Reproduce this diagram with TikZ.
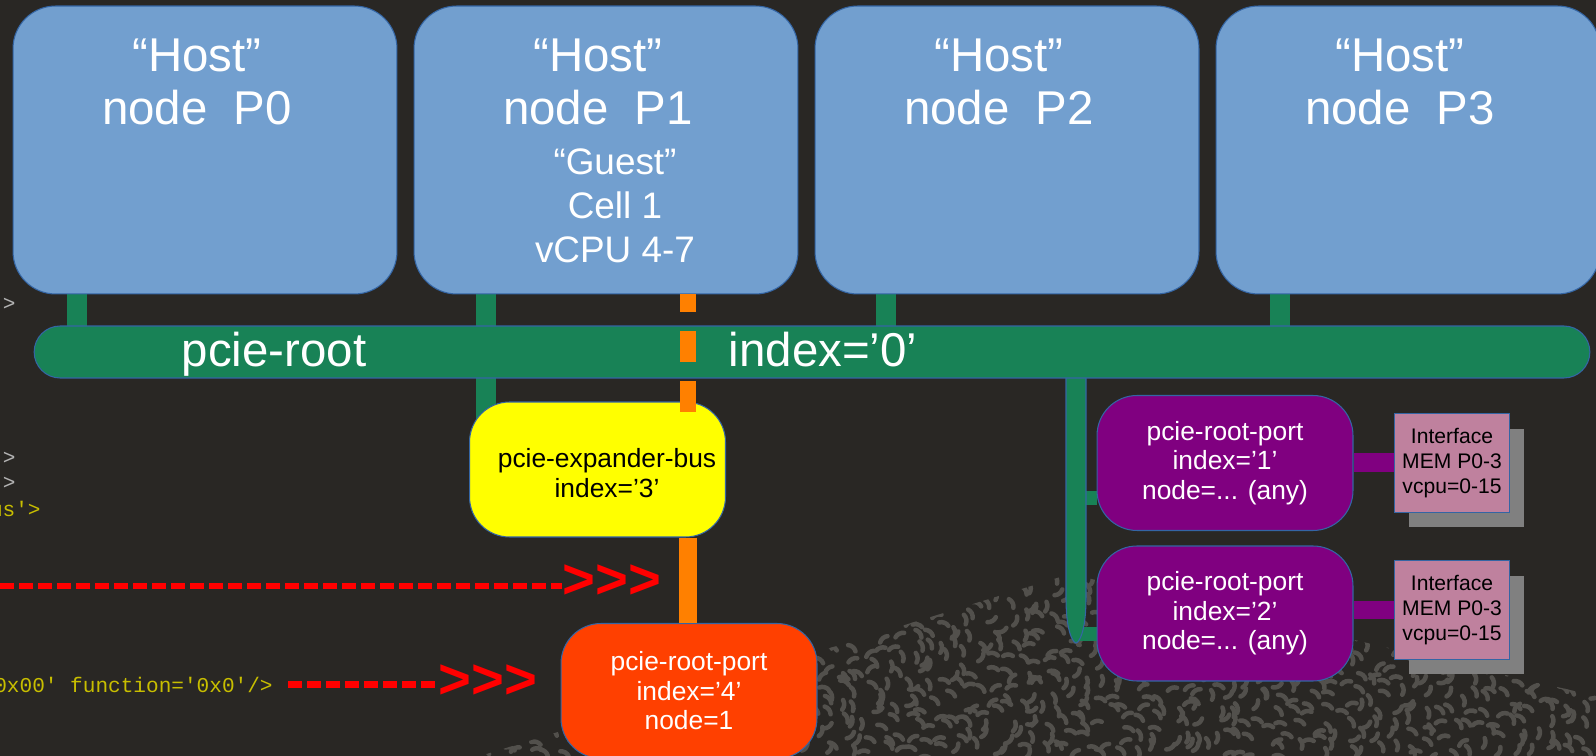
\documentclass[tikz,border=0pt]{standalone}
\usepackage{fontspec}
\setmainfont{Liberation Sans}
\newfontfamily\codefont{Liberation Mono}
\usetikzlibrary{positioning,shadows}

\definecolor{bgdark}{RGB}{41,39,36}
\definecolor{hostblue}{RGB}{114,159,207}
\definecolor{edgeblue}{RGB}{52,101,164}
\definecolor{busgreen}{RGB}{24,130,86}
\definecolor{expyellow}{RGB}{255,255,0}
\definecolor{guestorange}{RGB}{255,128,0}
\definecolor{portred}{RGB}{255,64,0}
\definecolor{portpurple}{RGB}{128,0,128}
\definecolor{ifacepink}{RGB}{191,129,158}
\definecolor{shadowgray}{RGB}{128,128,128}
\definecolor{arrowred}{RGB}{255,0,0}
\definecolor{codeyellow}{RGB}{200,190,0}
\definecolor{codegray}{RGB}{180,180,180}
\definecolor{graingray}{RGB}{82,80,76}

\tikzset{
  hostbox/.style={rectangle, rounded corners=0.85cm, draw=edgeblue, line width=0.6pt,
    fill=hostblue, minimum width=7.68cm, minimum height=5.76cm, inner sep=0pt},
  hosttext/.style={text=white, align=center, inner sep=0pt, font=\fontsize{27}{30}\selectfont},
  guesttext/.style={text=white, align=center, inner sep=0pt, font=\fontsize{21}{25}\selectfont},
  busbar/.style={rectangle, rounded corners=0.52cm, draw=edgeblue, line width=0.6pt,
    fill=busgreen, minimum width=31.12cm, minimum height=1.04cm, inner sep=0pt},
  bustext/.style={text=white, inner sep=0pt, font=\fontsize{27}{30}\selectfont},
  portbox/.style={rectangle, rounded corners=0.8cm, draw=edgeblue, line width=0.6pt,
    minimum width=5.12cm, minimum height=2.7cm, inner sep=0pt, align=center,
    text=white, font=\fontsize{15}{16.8}\selectfont},
  ifacebox/.style={rectangle, draw=edgeblue, line width=0.6pt, fill=ifacepink,
    minimum width=2.3cm, minimum height=1.98cm, inner sep=0pt, align=center,
    font=\fontsize{12}{14}\selectfont,
    general shadow={fill=shadowgray, shadow xshift=0.28cm, shadow yshift=-0.3cm}},
  stub/.style={busgreen, line width=0.39cm},
  portstub/.style={busgreen, line width=0.28cm},
  guestdash/.style={guestorange, line width=0.32cm, dash pattern=on 0.62cm off 0.38cm, dash phase=0.26cm},
  guestline/.style={guestorange, line width=0.36cm},
  ifaceline/.style={portpurple, line width=0.38cm},
  reddash/.style={arrowred, line width=0.14cm, dash pattern=on 0.28cm off 0.1cm},
  chevrons/.style={text=arrowred, inner sep=0pt, font=\bfseries\fontsize{32}{32}\selectfont},
  codetext/.style={inner sep=0pt, font=\codefont\fontsize{12}{14}\selectfont},
  grain/.style={graingray, line width=0.09cm, line cap=round}
}

\pgfdeclarelayer{back}
\pgfdeclarelayer{wires}
\pgfsetlayers{back,wires,main}

\begin{document}
\begin{tikzpicture}[x=0.02cm, y=-0.02cm]
  \useasboundingbox (0,0) rectangle (1596,756);

  % backdrop and the grainy mound
  \begin{pgfonlayer}{back}
    \fill[bgdark] (0,0) rectangle (1596,756);
    \begin{scope}
      \clip (480,756) -- (1070,574) -- (1596,696) -- (1596,756) -- cycle;
      \pgfmathsetseed{42}
      \foreach \gx in {480,495,...,1596}{
        \foreach \gy in {570,583,...,756}{
          \pgfmathsetmacro{\jx}{\gx+9*rand}
          \pgfmathsetmacro{\jy}{\gy+6*rand}
          \pgfmathsetmacro{\ga}{60*sin(2*\gx+3*\gy)+50*rand}
          \draw[grain] (\jx,\jy) arc[start angle=\ga, delta angle=70, radius=0.17cm];
        }
      }
    \end{scope}
  \end{pgfonlayer}

  % host NUMA nodes
  \foreach \i/\x in {0/205,1/606,2/1007,3/1408}{
    \node[hostbox] (host\i) at (\x,150) {};
    \node[hosttext] (host\i txt) at (\x-8,82) {“Host”\\node\ \ P\i};
  }
  \node[guesttext] (guesttxt) at (615,206) {“Guest”\\Cell 1\\vCPU 4-7};

  % root bus
  \node[busbar] (bus) at (812,352) {};
  \node[bustext, anchor=base] (bustxt) at (274,367) {pcie-root};
  \node[bustext, anchor=base] (busidx) at (823,367) {index=’0’};

  % controllers
  \node[portbox, fill=expyellow] (expbus) at (597.5,469.5) {};
  \node[portbox, text=black, minimum width=0pt, minimum height=0pt, draw=none] (expbustxt)
    at (607,473) {pcie-expander-bus\\index=’3’};
  \node[portbox, fill=portred] (port4) at (689,691) {pcie-root-port\\index=’4’\\node=1};
  \node[portbox, fill=portpurple] (port1) at (1225,463) {pcie-root-port\\index=’1’\\node=... (any)};
  \node[portbox, fill=portpurple] (port2) at (1225,613.5) {pcie-root-port\\index=’2’\\node=... (any)};
  \node[ifacebox] (iface1) at (1452,463) {Interface\\MEM P0-3\\vcpu=0-15};
  \node[ifacebox] (iface2) at (1452,610) {Interface\\MEM P0-3\\vcpu=0-15};

  % green links under the bus
  \begin{pgfonlayer}{wires}
    \foreach \i/\x in {0/77,1/486,2/886,3/1280}
      \coordinate (s\i) at (\x,0);
    \foreach \i in {0,2,3}
      \draw[stub] (host\i.south -| s\i) -- (bus.center -| s\i);
    \draw[stub] (host1.south -| s1) -- (expbus.center -| s1);
    \draw[portstub] ([yshift=-0.7cm]port1.west) -- ++(-0.35cm,0);
    \draw[portstub] ([yshift=-0.41cm]port2.west) -- ++(-0.35cm,0);
    \coordinate (br) at (1076,643);
    \coordinate (brtop) at (bus.center -| br);
    \draw[fill=busgreen, draw=edgeblue, line width=0.6pt]
      ([xshift=-0.2cm]brtop) -- ([xshift=-0.2cm,yshift=0.9cm]br)
      .. controls ([xshift=-0.2cm,yshift=0.2cm]br) and ([xshift=-0.05cm]br) .. (br)
      .. controls ([xshift=0.05cm]br) and ([xshift=0.2cm,yshift=0.2cm]br) .. ([xshift=0.2cm,yshift=0.9cm]br)
      -- ([xshift=0.2cm]brtop) -- cycle;
  \end{pgfonlayer}

  % guest path
  \coordinate (gdash) at (688,414);
  \draw[guestdash] (host1.south -| gdash) -- (gdash);
  \draw[guestline] (expbus.south -| gdash) -- (port4.north -| gdash);

  % interfaces
  \draw[ifaceline] (port1.east) -- (port1.east -| iface1.west);
  \draw[ifaceline] (iface2.west -| port2.east) -- (iface2.west);

  % xml fragments on the left
  \node[codetext, text=codegray, anchor=east] (code1) at (16,303) {\textquotesingle>};
  \node[codetext, text=codegray, anchor=east] (code2) at (16,457) {\textquotesingle>};
  \node[codetext, text=codegray, anchor=east] (code3) at (16,482) {\textquotesingle>};
  \node[codetext, text=codeyellow, anchor=east] (code4) at (41,509) {us\textquotesingle>};
  \node[codetext, text=codeyellow, anchor=base east] (code5) at (273,692)
    {0x00\textquotesingle{} function=\textquotesingle{}0x0\textquotesingle{}/>};

  % red pointers
  \coordinate (redstart) at (0,586);
  \node[chevrons] (chev1) at (612,582) {>{}>{}>};
  \draw[reddash] (redstart) -- (redstart -| chev1.west);
  \node[chevrons] (chev2) at (488,682) {>{}>{}>};
  \draw[reddash] ([xshift=0.3cm]code5.east) -- (code5.east -| chev2.west);
\end{tikzpicture}
\end{document}
